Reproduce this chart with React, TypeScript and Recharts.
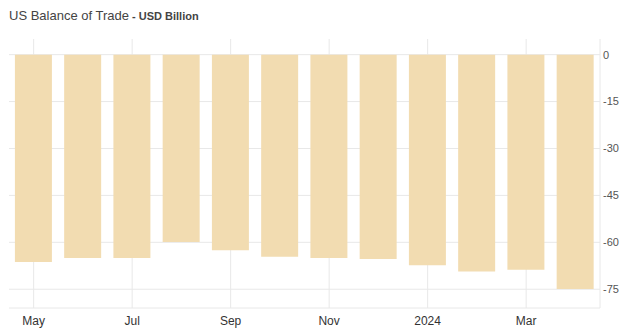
import { BarChart, Bar, XAxis, YAxis, CartesianGrid } from "recharts";

const months = ["May", "Jun", "Jul", "Aug", "Sep", "Oct", "Nov", "Dec", "2024", "Feb", "Mar", "Apr"];
const balance = [-66.3, -65.0, -65.0, -59.9, -62.5, -64.6, -65.0, -65.3, -67.3, -69.3, -68.8, -74.9];
const yTicks = [0, -15, -30, -45, -60, -75];

const data = months.map((m, i) => ({ month: m, value: balance[i] }));

const GRID = "#e8e8e8";
const FONT = "'Liberation Sans', Arial, sans-serif";

export default function App() {
  return (
    <div
      style={{
        position: "absolute",
        left: 0,
        top: 0,
        width: 622,
        height: 328,
        overflow: "hidden",
        background: "#fff",
        fontFamily: FONT,
      }}
    >
      <div style={{ position: "absolute", left: 9, top: 8, color: "#444", fontSize: 13 }}>
        US Balance of Trade
        <span style={{ fontSize: 11, fontWeight: 600 }}> - USD Billion</span>
      </div>
      <BarChart
        width={622}
        height={328}
        data={data}
        margin={{ top: 39, right: 0, left: 9, bottom: 2 }}
        barCategoryGap="12%"
      >
        <CartesianGrid stroke={GRID} syncWithTicks />
        <XAxis
          dataKey="month"
          interval={1}
          height={18}
          axisLine={{ stroke: GRID }}
          tickLine={false}
          tickMargin={2}
          tick={{ fill: "#333", fontSize: 12, fontFamily: FONT }}
        />
        <XAxis xAxisId="top" dataKey="month" orientation="top" height={0} tick={false} tickLine={false} axisLine={{ stroke: GRID }} />
        <YAxis
          orientation="right"
          width={22}
          domain={[-81, 5]}
          ticks={yTicks}
          axisLine={{ stroke: GRID }}
          tickLine={false}
          tickMargin={-3}
          tick={{ fill: "#555", fontSize: 11, fontFamily: FONT }}
        />
        <YAxis yAxisId="left" orientation="left" width={0} domain={[-81, 5]} tick={false} tickLine={false} axisLine={{ stroke: GRID }} />
        <Bar dataKey="value" fill="#f2dcb1" isAnimationActive={false} />
      </BarChart>
    </div>
  );
}
